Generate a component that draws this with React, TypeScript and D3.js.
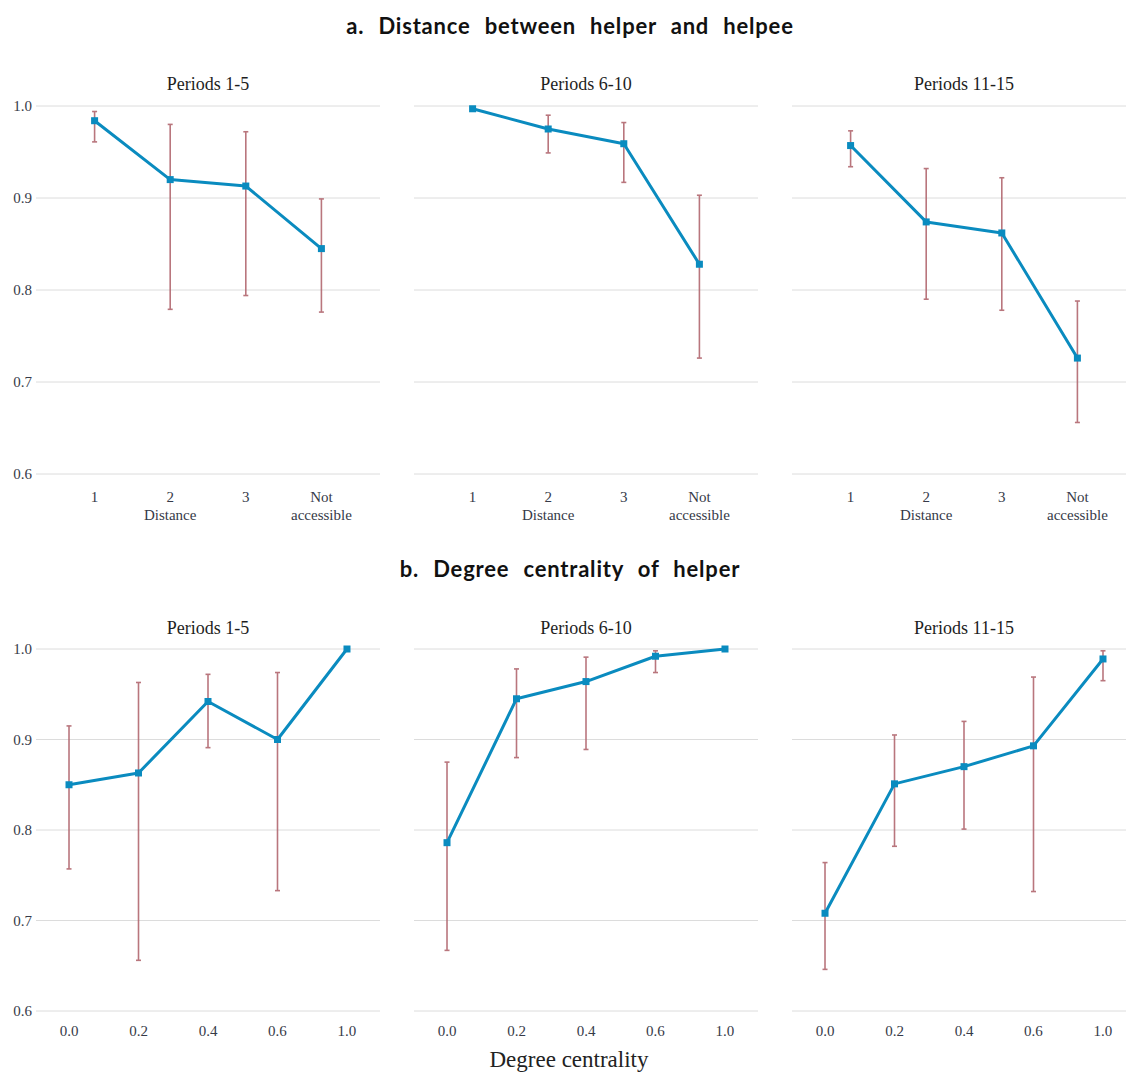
import React from "react";
import * as d3 from "d3";

// ---------- data ----------
const periods = ["Periods 1-5", "Periods 6-10", "Periods 11-15"];
const distCategories = ["1", "2", "3", "Not accessible"];
const degCategories = ["0.0", "0.2", "0.4", "0.6", "1.0"];
const yTicks = [0.6, 0.7, 0.8, 0.9, 1.0];

// a. Distance between helper and helpee
const distMean_1_5 = [0.984, 0.920, 0.913, 0.845];
const distLow_1_5 = [0.961, 0.779, 0.794, 0.776];
const distHigh_1_5 = [0.994, 0.980, 0.972, 0.899];

const distMean_6_10 = [0.997, 0.975, 0.959, 0.828];
const distLow_6_10: (number | null)[] = [null, 0.949, 0.917, 0.726];
const distHigh_6_10: (number | null)[] = [null, 0.990, 0.982, 0.903];

const distMean_11_15 = [0.957, 0.874, 0.862, 0.726];
const distLow_11_15 = [0.934, 0.790, 0.778, 0.656];
const distHigh_11_15 = [0.973, 0.932, 0.922, 0.788];

// b. Degree centrality of helper
const degMean_1_5 = [0.850, 0.863, 0.942, 0.900, 1.0];
const degLow_1_5: (number | null)[] = [0.757, 0.656, 0.891, 0.733, null];
const degHigh_1_5: (number | null)[] = [0.915, 0.963, 0.972, 0.974, null];

const degMean_6_10 = [0.786, 0.945, 0.964, 0.992, 1.0];
const degLow_6_10: (number | null)[] = [0.667, 0.880, 0.889, 0.974, null];
const degHigh_6_10: (number | null)[] = [0.875, 0.978, 0.991, 0.998, null];

const degMean_11_15 = [0.708, 0.851, 0.870, 0.893, 0.989];
const degLow_11_15 = [0.646, 0.782, 0.801, 0.732, 0.965];
const degHigh_11_15 = [0.764, 0.905, 0.920, 0.969, 0.998];

const distPanels = [
  { mean: distMean_1_5, low: distLow_1_5, high: distHigh_1_5 },
  { mean: distMean_6_10, low: distLow_6_10, high: distHigh_6_10 },
  { mean: distMean_11_15, low: distLow_11_15, high: distHigh_11_15 },
];
const degPanels = [
  { mean: degMean_1_5, low: degLow_1_5, high: degHigh_1_5 },
  { mean: degMean_6_10, low: degLow_6_10, high: degHigh_6_10 },
  { mean: degMean_11_15, low: degLow_11_15, high: degHigh_11_15 },
];

// ---------- styles ----------
const W = 1126;
const H = 1072;
const panelLefts = [36, 414, 792];
const panelWidth = 344;
const LINE = "#0a8bbf";
const ERR = "#b26870";
const GRID = "#dcdcdc";
const TXT = "#363a48";
const SERIF = "Liberation Serif, DejaVu Serif, serif";
const SANS = "Lato, Open Sans, sans-serif";

type PanelData = { mean: number[]; low: (number | null)[]; high: (number | null)[] };

function Panel(props: {
  left: number;
  data: PanelData;
  cats: string[];
  padding: number;
  yRange: [number, number];
  title: string;
  titleY: number;
  showY: boolean;
  tickY: number;
  axisTitle?: string;
  axisTitleCat?: string;
}) {
  const { left, data, cats, padding, yRange, title, titleY, showY, tickY, axisTitle, axisTitleCat } = props;
  const x = d3.scalePoint<string>().domain(cats).range([left, left + panelWidth]).padding(padding);
  const y = d3.scaleLinear().domain([0.6, 1.0]).range(yRange);
  const pts = cats.map((c, i) => [x(c) as number, y(data.mean[i])] as [number, number]);
  const line = d3.line()(pts) || "";
  const cap = 2.5;
  return (
    <g>
      <text x={left + panelWidth / 2} y={titleY} textAnchor="middle" style={{ fontFamily: SERIF }} fontSize={18} fill="#1e1e1e">
        {title}
      </text>
      {yTicks.map((t) => (
        <g key={t}>
          <line x1={left} x2={left + panelWidth} y1={y(t)} y2={y(t)} stroke={GRID} strokeWidth={1} />
          {showY && (
            <text x={32} y={y(t)} dy="0.35em" textAnchor="end" style={{ fontFamily: SERIF }} fontSize={15} fill={TXT}>
              {t.toFixed(1)}
            </text>
          )}
        </g>
      ))}
      {cats.map((c) => {
        const words = c.split(" ");
        return (
          <text key={c} x={x(c)} y={tickY} textAnchor="middle" style={{ fontFamily: SERIF }} fontSize={15} fill={TXT}>
            {words.map((w, i) => (
              <tspan key={i} x={x(c)} dy={i === 0 ? 0 : 17.5}>
                {w}
              </tspan>
            ))}
          </text>
        );
      })}
      {axisTitle && axisTitleCat && (
        <text x={x(axisTitleCat)} y={tickY + 17.5} textAnchor="middle" style={{ fontFamily: SERIF }} fontSize={15} fill={TXT}>
          {axisTitle}
        </text>
      )}
      {cats.map((c, i) => {
        const lo = data.low[i];
        const hi = data.high[i];
        if (lo == null || hi == null) return null;
        const cx = x(c) as number;
        return (
          <g key={"e" + c} stroke={ERR} strokeWidth={1.6} opacity={0.9}>
            <line x1={cx} x2={cx} y1={y(lo)} y2={y(hi)} />
            <line x1={cx - cap} x2={cx + cap} y1={y(lo)} y2={y(lo)} />
            <line x1={cx - cap} x2={cx + cap} y1={y(hi)} y2={y(hi)} />
          </g>
        );
      })}
      <path d={line} fill="none" stroke={LINE} strokeWidth={3} strokeLinejoin="round" />
      {pts.map((p, i) => (
        <rect key={i} x={p[0] - 3.5} y={p[1] - 3.5} width={7} height={7} fill={LINE} />
      ))}
    </g>
  );
}

export default function App() {
  return (
    <svg
      width={W}
      height={H}
      viewBox={`0 0 ${W} ${H}`}
      style={{ position: "absolute", left: 0, top: 0, background: "#fff" }}
    >
      <rect x={0} y={0} width={W} height={H} fill="#fff" />
      <text x={570} y={34} textAnchor="middle" style={{ fontFamily: SANS }} fontWeight={700} fontSize={22} letterSpacing={0.8} wordSpacing={8} fill="#111">
        a.  Distance between helper and helpee
      </text>
      <text x={570} y={577} textAnchor="middle" style={{ fontFamily: SANS }} fontWeight={700} fontSize={22} letterSpacing={0.8} wordSpacing={8} fill="#111">
        b.  Degree centrality of helper
      </text>
      {distPanels.map((d, i) => (
        <Panel
          key={"a" + i}
          left={panelLefts[i]}
          data={d}
          cats={distCategories}
          padding={0.775}
          yRange={[474, 106]}
          title={periods[i]}
          titleY={90}
          showY={i === 0}
          tickY={502}
          axisTitle="Distance"
          axisTitleCat="2"
        />
      ))}
      {degPanels.map((d, i) => (
        <Panel
          key={"b" + i}
          left={panelLefts[i]}
          data={d}
          cats={degCategories}
          padding={0.475}
          yRange={[1011, 649]}
          title={periods[i]}
          titleY={634}
          showY={i === 0}
          tickY={1036}
        />
      ))}
      <text x={569} y={1067} textAnchor="middle" style={{ fontFamily: SERIF }} fontSize={23} fill="#222">
        Degree centrality
      </text>
    </svg>
  );
}
